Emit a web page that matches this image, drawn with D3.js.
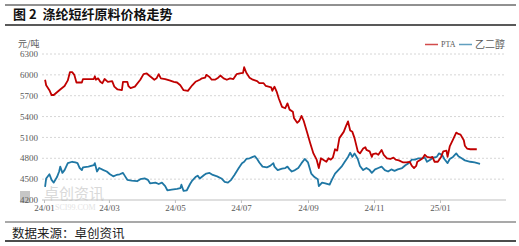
<!DOCTYPE html>
<html><head><meta charset="utf-8">
<script src="https://cdn.jsdelivr.net/npm/d3@7"></script>
<style>html,body{margin:0;padding:0;background:#fff;}svg{display:block;}</style>
</head><body>
<svg id="chart" width="519" height="246"></svg>
<script>
const ptaDates = ["2024-01-02","2024-01-03","2024-01-06","2024-01-08","2024-01-10","2024-01-13","2024-01-16","2024-01-20","2024-01-23","2024-01-25","2024-01-27","2024-01-29","2024-01-31","2024-02-05","2024-02-06","2024-02-16","2024-02-17","2024-02-18","2024-02-20","2024-02-22","2024-02-24","2024-02-26","2024-02-29","2024-03-04","2024-03-06","2024-03-09","2024-03-13","2024-03-14","2024-03-18","2024-03-19","2024-03-21","2024-03-25","2024-03-30","2024-04-02","2024-04-05","2024-04-08","2024-04-12","2024-04-14","2024-04-16","2024-04-18","2024-04-22","2024-04-26","2024-04-30","2024-05-03","2024-05-06","2024-05-09","2024-05-13","2024-05-17","2024-05-20","2024-05-24","2024-05-26","2024-05-29","2024-05-30","2024-06-02","2024-06-04","2024-06-07","2024-06-10","2024-06-12","2024-06-15","2024-06-18","2024-06-21","2024-06-24","2024-06-27","2024-06-30","2024-07-03","2024-07-04","2024-07-06","2024-07-09","2024-07-12","2024-07-16","2024-07-18","2024-07-22","2024-07-24","2024-07-29","2024-07-30","2024-08-01","2024-08-03","2024-08-05","2024-08-08","2024-08-11","2024-08-13","2024-08-15","2024-08-18","2024-08-19","2024-08-22","2024-08-24","2024-08-26","2024-08-28","2024-08-31","2024-09-03","2024-09-06","2024-09-09","2024-09-11","2024-09-13","2024-09-15","2024-09-18","2024-09-20","2024-09-22","2024-09-24","2024-09-26","2024-09-28","2024-09-30","2024-10-04","2024-10-06","2024-10-08","2024-10-10","2024-10-12","2024-10-14","2024-10-17","2024-10-19","2024-10-22","2024-10-24","2024-10-25","2024-10-28","2024-10-30","2024-10-31","2024-11-03","2024-11-05","2024-11-08","2024-11-10","2024-11-13","2024-11-16","2024-11-19","2024-11-21","2024-11-24","2024-11-28","2024-12-01","2024-12-04","2024-12-06","2024-12-08","2024-12-10","2024-12-11","2024-12-14","2024-12-16","2024-12-18","2024-12-20","2024-12-23","2024-12-25","2024-12-27","2024-12-30","2025-01-02","2025-01-04","2025-01-07","2025-01-08","2025-01-10","2025-01-13","2025-01-16","2025-01-18","2025-01-20","2025-01-23","2025-01-24","2025-01-26","2025-01-29","2025-02-04"];
const ptaValues = [5930,5850,5780,5710,5710,5750,5790,5840,5920,6040,6040,6000,5890,5890,5940,5940,5980,5930,5950,5900,5880,5940,5900,5910,5830,5790,5780,5900,5900,5840,5810,5830,5930,6010,6020,5980,5930,5950,6010,5950,5940,5920,5900,5890,5850,5780,5770,5850,5900,5930,5950,5960,6000,5970,5930,5930,5960,5990,5950,5930,5950,5940,6010,6020,6030,6110,6030,5960,5930,5910,5880,5880,5840,5820,5770,5830,5760,5660,5540,5520,5590,5500,5470,5380,5310,5340,5410,5340,5180,5020,4870,4780,4660,4800,4780,4750,4800,4780,4810,4930,4910,5090,5180,5260,5330,5200,5180,5090,4900,4870,4940,4960,4920,4900,4820,4860,4870,4850,4920,4850,4800,4790,4810,4780,4770,4740,4740,4750,4690,4660,4690,4750,4780,4800,4850,4820,4810,4820,4750,4750,4820,4900,4910,4820,4970,5070,5170,5150,5140,5060,4980,4940,4930,4930];

const megDates = ["2024-01-02","2024-01-03","2024-01-06","2024-01-08","2024-01-10","2024-01-13","2024-01-15","2024-01-16","2024-01-18","2024-01-20","2024-01-23","2024-01-27","2024-01-30","2024-02-01","2024-02-03","2024-02-05","2024-02-06","2024-02-11","2024-02-16","2024-02-17","2024-02-19","2024-02-21","2024-02-25","2024-02-28","2024-03-02","2024-03-05","2024-03-08","2024-03-11","2024-03-14","2024-03-16","2024-03-18","2024-03-22","2024-03-27","2024-03-30","2024-04-03","2024-04-06","2024-04-08","2024-04-13","2024-04-16","2024-04-19","2024-04-22","2024-04-24","2024-04-28","2024-05-03","2024-05-06","2024-05-07","2024-05-09","2024-05-12","2024-05-15","2024-05-17","2024-05-20","2024-05-22","2024-05-24","2024-05-28","2024-05-30","2024-06-02","2024-06-05","2024-06-09","2024-06-13","2024-06-16","2024-06-19","2024-06-22","2024-06-25","2024-06-29","2024-07-02","2024-07-04","2024-07-06","2024-07-09","2024-07-12","2024-07-14","2024-07-16","2024-07-18","2024-07-21","2024-07-25","2024-07-28","2024-07-31","2024-08-01","2024-08-04","2024-08-08","2024-08-11","2024-08-13","2024-08-15","2024-08-17","2024-08-20","2024-08-23","2024-08-26","2024-08-29","2024-09-01","2024-09-04","2024-09-07","2024-09-10","2024-09-11","2024-09-14","2024-09-17","2024-09-21","2024-09-23","2024-09-26","2024-09-29","2024-10-02","2024-10-05","2024-10-08","2024-10-10","2024-10-12","2024-10-14","2024-10-17","2024-10-19","2024-10-22","2024-10-25","2024-10-28","2024-10-30","2024-11-02","2024-11-05","2024-11-08","2024-11-11","2024-11-14","2024-11-17","2024-11-20","2024-11-23","2024-11-27","2024-11-30","2024-12-03","2024-12-06","2024-12-09","2024-12-12","2024-12-15","2024-12-18","2024-12-20","2024-12-23","2024-12-26","2024-12-29","2024-12-31","2025-01-03","2025-01-05","2025-01-08","2025-01-10","2025-01-13","2025-01-16","2025-01-18","2025-01-21","2025-01-24","2025-01-29","2025-02-02","2025-02-07"];
const megValues = [4390,4510,4570,4490,4450,4530,4610,4680,4590,4630,4730,4750,4740,4730,4660,4630,4670,4680,4700,4730,4610,4660,4630,4610,4570,4540,4560,4570,4590,4540,4490,4480,4470,4500,4510,4490,4440,4450,4430,4450,4400,4340,4350,4360,4370,4420,4330,4340,4430,4480,4530,4550,4510,4560,4580,4590,4560,4540,4510,4460,4450,4490,4560,4660,4730,4750,4790,4800,4820,4830,4790,4740,4680,4670,4690,4730,4680,4630,4650,4660,4680,4640,4610,4630,4660,4730,4790,4740,4580,4530,4500,4400,4450,4440,4420,4490,4580,4630,4680,4750,4820,4880,4820,4870,4790,4690,4630,4660,4630,4590,4640,4660,4680,4630,4610,4640,4620,4640,4660,4700,4730,4780,4780,4800,4800,4810,4750,4780,4810,4820,4870,4850,4790,4730,4790,4820,4870,4830,4800,4770,4750,4740,4720];

const yTicks = [4200,4500,4800,5100,5400,5700,6000,6300];
const xTickDates = ["2024-01-01","2024-03-01","2024-05-01","2024-07-01","2024-09-01","2024-11-01","2025-01-01"];
const xTickLabels = ["24/01","24/03","24/05","24/07","24/09","24/11","25/01"];
const seriesNames = ["PTA","乙二醇"];
const seriesColors = ["#c00000","#1f77a4"];

const parse = d3.timeParse("%Y-%m-%d");
const svg = d3.select("#chart");
svg.append("rect").attr("width",519).attr("height",246).attr("fill","#fff");

const x = d3.scaleTime().domain([parse("2024-01-01"), parse("2025-03-03")]).range([44, 506]);
const y = d3.scaleLinear().domain([4200, 6300]).range([200, 54]);

const cjk = "'Noto Sans CJK SC', sans-serif";
const serif = "'Liberation Serif', 'DejaVu Serif', serif";

// header
svg.append("line").attr("x1",5).attr("x2",516).attr("y1",5).attr("y2",5).attr("stroke","#222").attr("stroke-width",1);
svg.append("text").attr("x",13).attr("y",19).attr("font-family",cjk).attr("font-weight","bold")
  .attr("font-size",13).attr("fill","#111").attr("xml:space","preserve").style("white-space","pre")
  .text("图 2  涤纶短纤原料价格走势");
svg.append("line").attr("x1",5).attr("x2",516).attr("y1",25).attr("y2",25).attr("stroke","#222").attr("stroke-width",1.6);

// watermark
const wm = svg.append("g").attr("opacity",0.55);
wm.append("rect").attr("x",20).attr("y",191).attr("width",10).attr("height",12).attr("fill","#999");
wm.append("text").attr("x",44).attr("y",199).attr("font-family",cjk).attr("font-size",15).attr("fill","#bbb").text("卓创资讯");
wm.append("text").attr("x",55).attr("y",210).attr("font-family",serif).attr("font-size",8).attr("fill","#ccc").text("SCI99.COM");

// gridlines
svg.append("g").selectAll("line").data(yTicks.filter(t => t > 4200)).join("line")
  .attr("x1",42).attr("x2",505).attr("y1",d => y(d)).attr("y2",d => y(d))
  .attr("stroke","#d6d6d6").attr("stroke-width",1).attr("stroke-dasharray","2,2");

// y labels
svg.append("g").selectAll("text").data(yTicks).join("text")
  .attr("x",38).attr("y",d => y(d)).attr("dy","0.35em").attr("text-anchor","end")
  .attr("font-family",serif).attr("font-size",9).attr("fill","#595959").text(d => d);
svg.append("text").attr("x",18).attr("y",47).attr("font-family",cjk).attr("font-size",9).attr("fill","#595959").text("元/吨");

// x axis
const xAxis = d3.axisBottom(x).tickValues(xTickDates.map(parse)).tickSize(3).tickSizeOuter(0)
  .tickFormat((d,i) => xTickLabels[i]);
const gx = svg.append("g").attr("transform","translate(0,200)").call(xAxis);
gx.select(".domain").remove();
gx.append("line").attr("x1",42).attr("x2",506).attr("y1",0).attr("y2",0).attr("stroke","#bfbfbf").attr("stroke-width",1.2);
gx.selectAll(".tick line").attr("stroke","#bfbfbf");
gx.selectAll(".tick text").attr("font-family",serif).attr("font-size",9).attr("fill","#595959").attr("dy","0.55em");

// lines
const line = d3.line().x(d => x(d[0])).y(d => y(d[1])).curve(d3.curveLinear);
const series = [
  ptaDates.map((d,i) => [parse(d), ptaValues[i]]),
  megDates.map((d,i) => [parse(d), megValues[i]])
];
[1,0].forEach(k => {
  svg.append("path").datum(series[k]).attr("d", line).attr("fill","none")
    .attr("stroke", seriesColors[k]).attr("stroke-width",1.8).attr("stroke-linejoin","round");
});

// legend
const legX = [425, 459];
seriesNames.forEach((n,i) => {
  svg.append("line").attr("x1",legX[i]).attr("x2",legX[i]+13).attr("y1",44.5).attr("y2",44.5)
    .attr("stroke",seriesColors[i]).attr("stroke-width",1.5).attr("opacity",0.7);
  svg.append("text").attr("x",legX[i]+16).attr("y",44.5).attr("dy","0.35em")
    .attr("font-family", i===0 ? serif : cjk).attr("font-size", i===0 ? 8 : 10).attr("fill","#595959").text(n);
});

// footer
svg.append("line").attr("x1",5).attr("x2",516).attr("y1",222).attr("y2",222).attr("stroke","#555").attr("stroke-width",1.2);
svg.append("text").attr("x",12).attr("y",238).attr("font-family",cjk).attr("font-size",12.5).attr("fill","#222").text("数据来源：卓创资讯");
svg.append("line").attr("x1",5).attr("x2",516).attr("y1",241).attr("y2",241).attr("stroke","#111").attr("stroke-width",1.6);
</script>
</body></html>
